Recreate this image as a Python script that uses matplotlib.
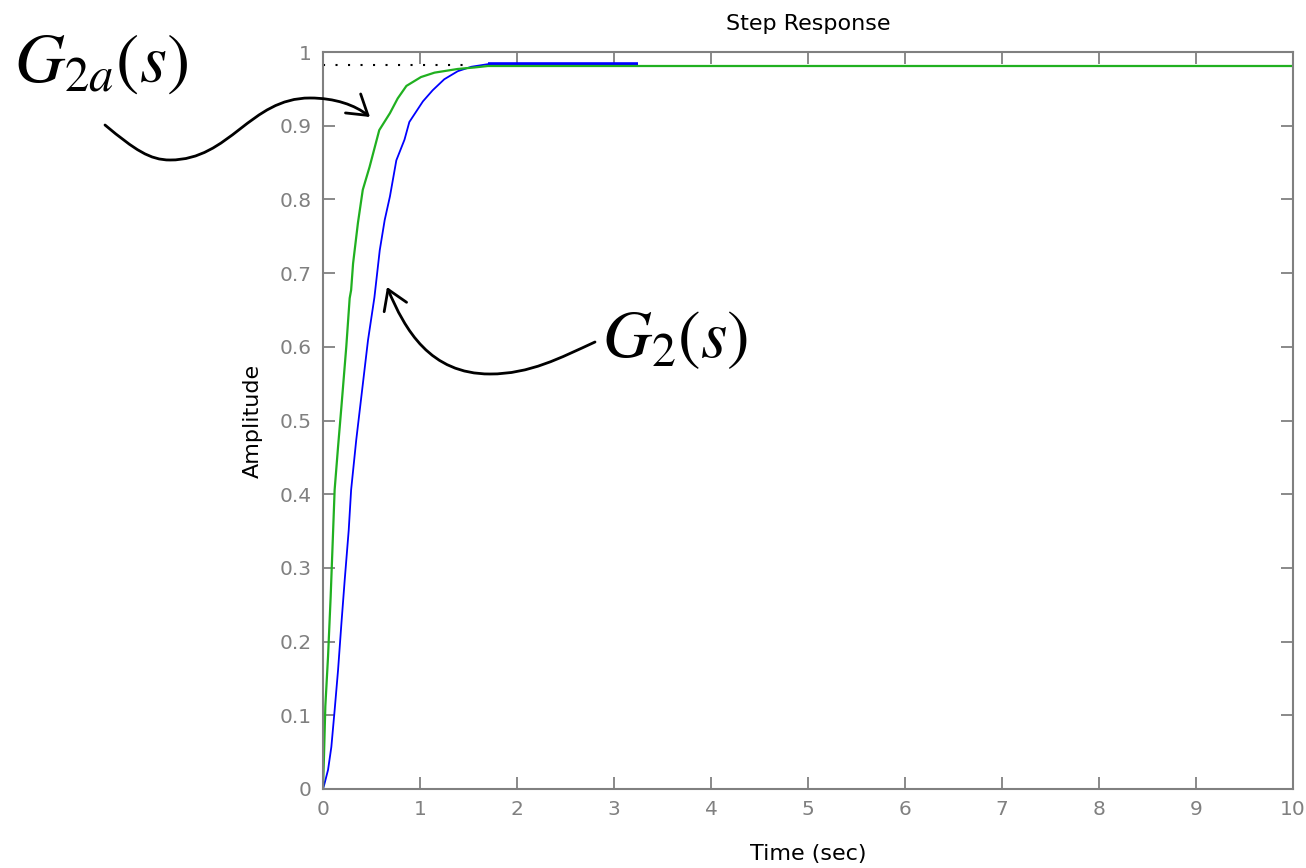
import matplotlib.pyplot as plt
from matplotlib.path import Path
from matplotlib.patches import FancyArrowPatch, ArrowStyle

W, H = 1306, 868

# step response of G2a(s) (green)
t_g2a = [0.0, 0.01, 0.024, 0.052, 0.079, 0.10, 0.12, 0.155, 0.19, 0.24, 0.275, 0.29,
         0.31, 0.36, 0.41, 0.48, 0.58, 0.69, 0.77, 0.86, 1.01, 1.15, 1.39, 1.56, 1.7, 10.0]
y_g2a = [0.0, 0.044, 0.112, 0.180, 0.261, 0.335, 0.406, 0.464, 0.519, 0.600, 0.666, 0.677,
         0.713, 0.768, 0.813, 0.844, 0.894, 0.917, 0.937, 0.954, 0.966, 0.972, 0.977, 0.979,
         0.981, 0.981]

# step response of G2(s) (blue)
t_g2 = [0.0, 0.017, 0.052, 0.086, 0.12, 0.155, 0.19, 0.224, 0.265, 0.29, 0.343, 0.395,
        0.464, 0.53, 0.585, 0.636, 0.69, 0.756, 0.84, 0.89, 1.03, 1.13, 1.25, 1.39, 1.53, 1.7]
y_g2 = [0.0, 0.008, 0.026, 0.057, 0.107, 0.161, 0.225, 0.284, 0.351, 0.406, 0.474, 0.532,
        0.609, 0.667, 0.731, 0.772, 0.804, 0.853, 0.881, 0.905, 0.933, 0.948, 0.963, 0.974,
        0.980, 0.9835]
t_g2_flat = [1.7, 3.25]
y_g2_flat = [0.9835, 0.9835]

# steady-state marker (dotted)
t_ss = [0.0, 1.5]
y_ss = [0.982, 0.982]

x_ticks = list(range(0, 11))
y_ticks = [0, 0.1, 0.2, 0.3, 0.4, 0.5, 0.6, 0.7, 0.8, 0.9, 1]
y_ticklabels = ["0", "0.1", "0.2", "0.3", "0.4", "0.5", "0.6", "0.7", "0.8", "0.9", "1"]

GREEN = "#20b020"
BLUE = "#0000ff"
GREY = "#808080"

plt.rcParams["font.family"] = ["DejaVu Sans"]
plt.rcParams["mathtext.fontset"] = "stix"


def px(x, y):
    return (x / W, 1 - y / H)


fig = plt.figure(figsize=(W / 100, H / 100), dpi=100)
ax = fig.add_axes([323 / W, 1 - 789 / H, (1293 - 323) / W, (789 - 52) / H])

ax.plot(t_ss, y_ss, color="black", lw=1.5, ls=(0, (1, 5)))
ax.plot(t_g2_flat, y_g2_flat, color=BLUE, lw=2.6, solid_capstyle="butt")
ax.plot(t_g2, y_g2, color=BLUE, lw=1.3)
ax.plot(t_g2a, y_g2a, color=GREEN, lw=1.6)

ax.set_xlim(0, 10)
ax.set_ylim(0, 1)
ax.set_xticks(x_ticks)
ax.set_yticks(y_ticks)
ax.set_yticklabels(y_ticklabels)
ax.tick_params(direction="in", length=8.5, width=1.3, color=GREY, labelcolor=GREY,
               labelsize=14.5, top=True, right=True, pad=8)
for sp in ax.spines.values():
    sp.set_color(GREY)
    sp.set_linewidth(1.5)

ax.set_title("Step Response", fontsize=16, pad=16)
ax.set_xlabel("Time (sec)", fontsize=16, labelpad=18)
ax.set_ylabel("Amplitude", fontsize=16, labelpad=12)

# annotations
fig.text(*px(14, 63), r"$G_{2a}(s)$", fontsize=50, ha="left", va="center")
fig.text(*px(602, 338), r"$G_{2}(s)$", fontsize=49, ha="left", va="center")

head = ArrowStyle("->", head_length=0.55, head_width=0.35)

curve1 = [(105, 125), (135, 150), (150, 160), (170, 160),
          (230, 160), (250, 98), (310, 98),
          (335, 98), (355, 105), (370, 117)]
curve2 = [(595, 342), (560, 358), (530, 374), (490, 374),
          (430, 374), (405, 330), (387, 287)]

for pts in (curve1, curve2):
    verts = [px(x, y) for x, y in pts]
    codes = [Path.MOVETO] + [Path.CURVE4] * (len(verts) - 1)
    arr = FancyArrowPatch(path=Path(verts, codes), arrowstyle=head, mutation_scale=25,
                          lw=2, color="black", transform=fig.transFigure)
    fig.add_artist(arr)

fig.savefig("out.png", dpi=100)
